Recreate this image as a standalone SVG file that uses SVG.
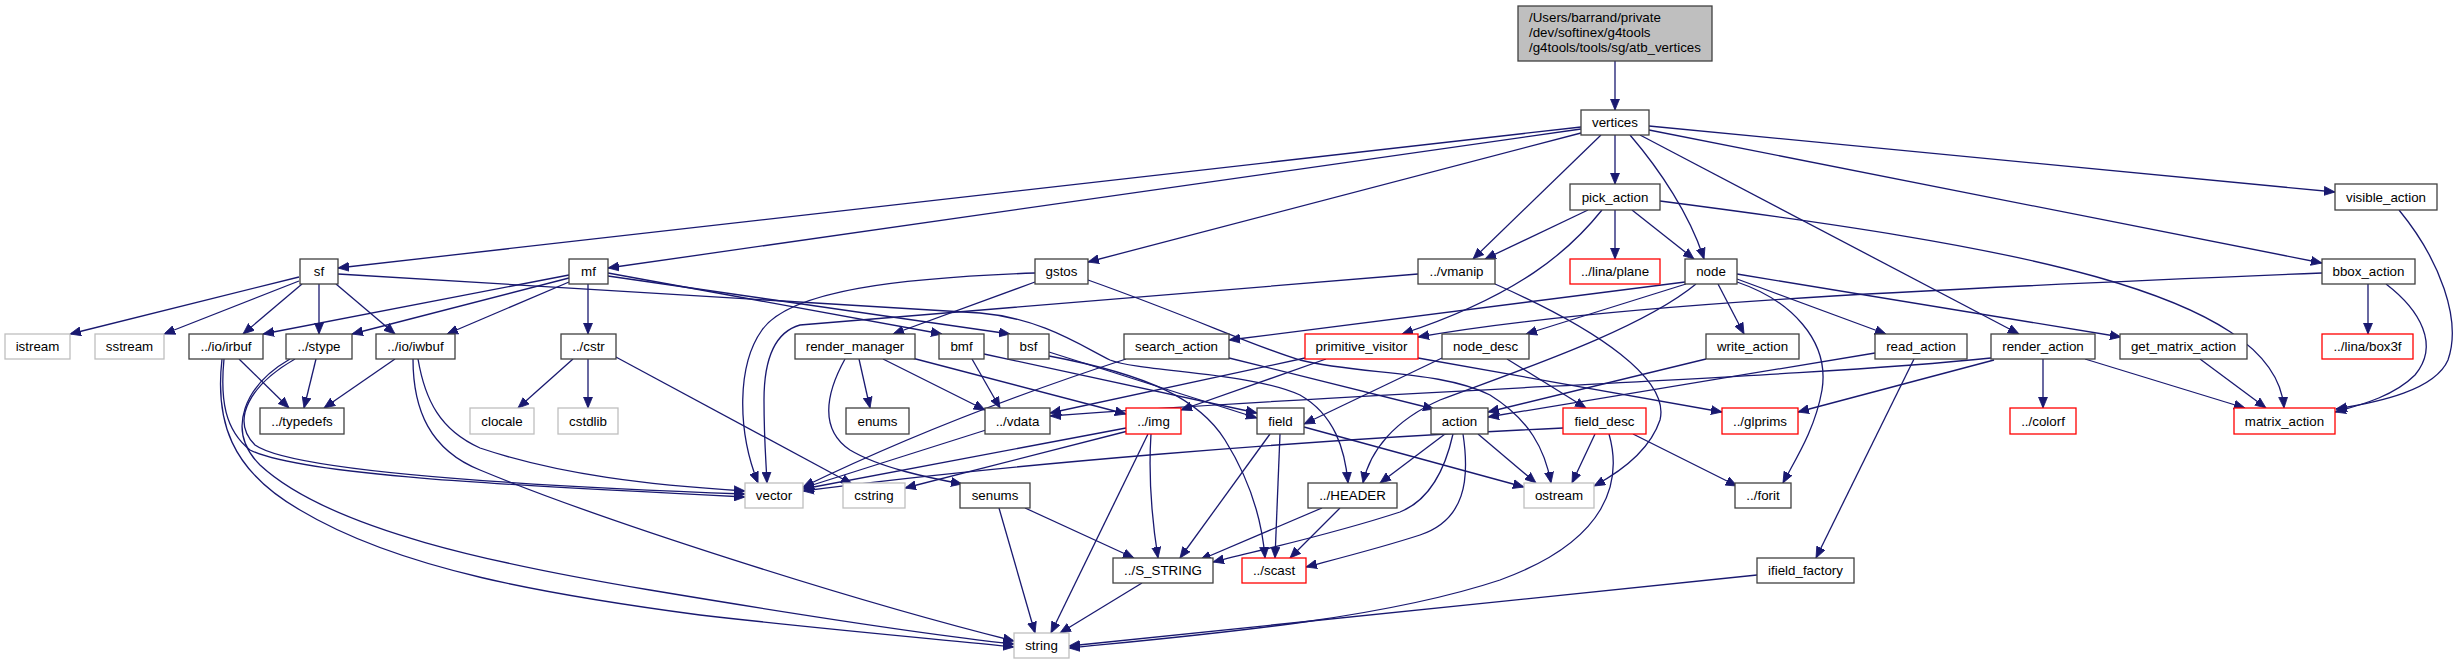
<svg xmlns="http://www.w3.org/2000/svg" width="2461" height="664" viewBox="0 0 2461 664">
<style>
rect{fill:#fff;stroke-width:1.3}
.n rect{stroke:#404040}
.g rect{stroke:#bfbfbf}
.r rect{stroke:#ff0000}
.root rect{fill:#bfbfbf;stroke:#404040}
text{font-family:"Liberation Sans",Arial,sans-serif;font-size:13.33px;fill:#000;text-anchor:middle}
.root text{text-anchor:start}
#edges path{fill:none;stroke:#191970;stroke-width:1.3;marker-end:url(#ah)}
</style>
<defs>
<marker id="ah" markerUnits="userSpaceOnUse" markerWidth="12" markerHeight="10" refX="11" refY="4.5" orient="auto" viewBox="0 0 12 9">
<path d="M0,0 L11,4.5 L0,9 z" fill="#191970" stroke="#191970" stroke-width="0.8"/>
</marker>
</defs>
<rect x="0" y="0" width="2461" height="664" style="fill:#fff;stroke:none"/>
<g id="edges">
<path d="M1615,61 L1615,110"/>
<path d="M1581,127 L338,268"/>
<path d="M1581,129 L608,268"/>
<path d="M1581,133 L1088,262"/>
<path d="M1601,135 L1473,259"/>
<path d="M1615,135 L1615,184"/>
<path d="M1630,135 C1660,170 1690,215 1704,259"/>
<path d="M1640,135 L2019,334"/>
<path d="M1649,130 L2322,263"/>
<path d="M1649,126 L2335,192"/>
<path d="M1588,210 L1485,259"/>
<path d="M1602,210 C1570,250 1520,295 1402,334"/>
<path d="M1615,210 L1615,259"/>
<path d="M1632,210 L1694,259"/>
<path d="M1660,201 C2000,245 2275,290 2284,408"/>
<path d="M2399,210 C2440,260 2462,320 2448,360 C2435,390 2380,402 2336,409"/>
<path d="M2368,284 L2368,334"/>
<path d="M2386,284 C2420,310 2440,345 2415,375 C2395,395 2365,404 2335,412"/>
<path d="M2322,273 C1900,290 1600,305 1418,337"/>
<path d="M299,277 L70,334"/>
<path d="M299,281 L164,334"/>
<path d="M302,284 L243,334"/>
<path d="M319,284 L319,334"/>
<path d="M336,284 L395,334"/>
<path d="M338,274 L980,313 C1040,318 1080,345 1110,360 C1140,372 1250,372 1300,395 C1335,415 1345,450 1348,483"/>
<path d="M569,275 L263,334"/>
<path d="M569,278 L352,334"/>
<path d="M569,282 L447,334"/>
<path d="M588,284 L588,334"/>
<path d="M608,273 L942,334"/>
<path d="M608,276 L1010,334"/>
<path d="M1035,273 C900,278 790,290 762,330 C737,365 737,430 758,483"/>
<path d="M1418,274 L800,325 C775,332 764,360 764,400 C764,440 766,460 767,483"/>
<path d="M1495,284 C1600,330 1670,380 1660,420 C1650,450 1620,472 1594,486"/>
<path d="M1035,282 L893,334"/>
<path d="M1088,280 C1200,320 1250,345 1300,360 C1360,375 1440,370 1490,395 C1530,420 1545,450 1551,483"/>
<path d="M845,359 C825,395 820,430 850,450 C880,468 930,478 962,484"/>
<path d="M859,359 L870,408"/>
<path d="M883,359 L985,410"/>
<path d="M912,358 L1126,414"/>
<path d="M972,359 L1000,408"/>
<path d="M984,354 L1257,413"/>
<path d="M1049,352 L1257,418"/>
<path d="M1049,356 C1150,375 1200,400 1225,440 C1250,480 1262,520 1265,558"/>
<path d="M1126,359 C1000,400 900,440 803,487"/>
<path d="M1229,358 L1434,409"/>
<path d="M1685,282 L1229,340"/>
<path d="M1686,284 L1526,334"/>
<path d="M1696,284 C1640,330 1520,370 1440,400 C1395,420 1370,450 1363,483"/>
<path d="M1718,284 L1744,334"/>
<path d="M1737,279 L1886,334"/>
<path d="M1737,274 L2121,337"/>
<path d="M1737,282 C1790,300 1830,340 1822,390 C1815,430 1795,460 1783,483"/>
<path d="M1442,358 L1304,424"/>
<path d="M1507,359 L1586,408"/>
<path d="M1305,358 L1050,413"/>
<path d="M1326,359 L1181,410"/>
<path d="M1418,358 L1722,412"/>
<path d="M1706,359 L1488,412"/>
<path d="M1875,353 L1488,417"/>
<path d="M1991,358 C1800,378 1400,390 1050,416"/>
<path d="M1994,360 L1798,412"/>
<path d="M2043,359 L2043,408"/>
<path d="M2085,359 L2245,408"/>
<path d="M2200,359 L2266,408"/>
<path d="M1914,359 L1816,558"/>
<path d="M1757,575 L1069,646"/>
<path d="M1609,434 C1622,480 1610,540 1500,580 C1380,620 1200,635 1069,648"/>
<path d="M1595,434 L1572,483"/>
<path d="M1633,434 L1737,486"/>
<path d="M1563,428 C1300,440 1000,465 803,491"/>
<path d="M1304,427 L1524,487"/>
<path d="M1270,434 L1180,558"/>
<path d="M1280,434 L1275,558"/>
<path d="M1445,434 L1380,483"/>
<path d="M1478,434 L1536,483"/>
<path d="M1453,434 C1445,470 1430,500 1400,512 C1330,535 1260,550 1213,562"/>
<path d="M1463,434 C1470,480 1465,520 1420,535 C1380,548 1340,558 1306,567"/>
<path d="M1322,508 L1200,560"/>
<path d="M1340,508 L1290,558"/>
<path d="M1142,583 L1060,633"/>
<path d="M999,508 L1035,633"/>
<path d="M1025,508 L1134,558"/>
<path d="M1128,431 L905,488"/>
<path d="M1126,428 L803,489"/>
<path d="M1148,434 L1051,633"/>
<path d="M1151,434 C1148,480 1152,520 1158,558"/>
<path d="M986,430 L803,488"/>
<path d="M239,359 L289,408"/>
<path d="M316,359 L304,408"/>
<path d="M395,359 L324,408"/>
<path d="M222,359 C215,420 230,470 300,510 C400,570 550,595 700,615 C850,632 950,640 1014,647"/>
<path d="M224,359 C220,400 225,430 250,450 C300,475 500,485 745,497"/>
<path d="M295,359 C250,385 230,420 255,445 C290,470 500,485 745,494"/>
<path d="M290,359 C245,385 225,430 260,465 C330,530 500,565 650,590 C800,615 930,635 1014,644"/>
<path d="M418,359 C425,400 440,430 480,448 C560,475 650,485 745,491"/>
<path d="M413,359 C413,410 430,450 480,470 C600,520 850,600 1014,641"/>
<path d="M573,359 L518,408"/>
<path d="M588,359 L588,408"/>
<path d="M614,356 L852,484"/>
</g>
<g id="node-root" class="root"><rect x="1518" y="6" width="194" height="55"/><text x="1529" y="21.5">/Users/barrand/private</text><text x="1529" y="36.5">/dev/softinex/g4tools</text><text x="1529" y="51.5">/g4tools/tools/sg/atb_vertices</text></g>
<g id="node-vertices" class="n"><rect x="1581" y="110" width="68" height="25"/><text x="1615" y="127">vertices</text></g>
<g id="node-pick_action" class="n"><rect x="1570" y="184" width="90" height="26"/><text x="1615" y="202">pick_action</text></g>
<g id="node-visible_action" class="n"><rect x="2335" y="184" width="102" height="26"/><text x="2386" y="202">visible_action</text></g>
<g id="node-sf" class="n"><rect x="300" y="259" width="38" height="25"/><text x="319" y="276">sf</text></g>
<g id="node-mf" class="n"><rect x="569" y="259" width="39" height="25"/><text x="588.5" y="276">mf</text></g>
<g id="node-gstos" class="n"><rect x="1035" y="259" width="53" height="25"/><text x="1061.5" y="276">gstos</text></g>
<g id="node-vmanip" class="n"><rect x="1418" y="259" width="77" height="25"/><text x="1456.5" y="276">../vmanip</text></g>
<g id="node-lina_plane" class="r"><rect x="1570" y="259" width="90" height="25"/><text x="1615" y="276">../lina/plane</text></g>
<g id="node-node" class="n"><rect x="1685" y="259" width="52" height="25"/><text x="1711" y="276">node</text></g>
<g id="node-bbox_action" class="n"><rect x="2322" y="259" width="93" height="25"/><text x="2368.5" y="276">bbox_action</text></g>
<g id="node-istream" class="g"><rect x="5" y="334" width="65" height="25"/><text x="37.5" y="351">istream</text></g>
<g id="node-sstream" class="g"><rect x="95" y="334" width="69" height="25"/><text x="129.5" y="351">sstream</text></g>
<g id="node-irbuf" class="n"><rect x="189" y="334" width="74" height="25"/><text x="226" y="351">../io/irbuf</text></g>
<g id="node-stype" class="n"><rect x="286" y="334" width="66" height="25"/><text x="319" y="351">../stype</text></g>
<g id="node-iwbuf" class="n"><rect x="376" y="334" width="79" height="25"/><text x="415.5" y="351">../io/iwbuf</text></g>
<g id="node-cstr" class="n"><rect x="561" y="334" width="55" height="25"/><text x="588.5" y="351">../cstr</text></g>
<g id="node-render_manager" class="n"><rect x="795" y="334" width="120" height="25"/><text x="855" y="351">render_manager</text></g>
<g id="node-bmf" class="n"><rect x="939" y="334" width="45" height="25"/><text x="961.5" y="351">bmf</text></g>
<g id="node-bsf" class="n"><rect x="1008" y="334" width="41" height="25"/><text x="1028.5" y="351">bsf</text></g>
<g id="node-search_action" class="n"><rect x="1124" y="334" width="105" height="25"/><text x="1176.5" y="351">search_action</text></g>
<g id="node-primitive_visitor" class="r"><rect x="1305" y="334" width="113" height="25"/><text x="1361.5" y="351">primitive_visitor</text></g>
<g id="node-node_desc" class="n"><rect x="1442" y="334" width="87" height="25"/><text x="1485.5" y="351">node_desc</text></g>
<g id="node-write_action" class="n"><rect x="1706" y="334" width="93" height="25"/><text x="1752.5" y="351">write_action</text></g>
<g id="node-read_action" class="n"><rect x="1875" y="334" width="92" height="25"/><text x="1921" y="351">read_action</text></g>
<g id="node-render_action" class="n"><rect x="1991" y="334" width="104" height="25"/><text x="2043" y="351">render_action</text></g>
<g id="node-get_matrix_action" class="n"><rect x="2120" y="334" width="127" height="25"/><text x="2183.5" y="351">get_matrix_action</text></g>
<g id="node-lina_box3f" class="r"><rect x="2322" y="334" width="91" height="25"/><text x="2367.5" y="351">../lina/box3f</text></g>
<g id="node-typedefs" class="n"><rect x="260" y="408" width="84" height="26"/><text x="302" y="426">../typedefs</text></g>
<g id="node-clocale" class="g"><rect x="470" y="408" width="64" height="26"/><text x="502" y="426">clocale</text></g>
<g id="node-cstdlib" class="g"><rect x="558" y="408" width="60" height="26"/><text x="588" y="426">cstdlib</text></g>
<g id="node-enums" class="n"><rect x="846" y="408" width="63" height="26"/><text x="877.5" y="426">enums</text></g>
<g id="node-vdata" class="n"><rect x="985" y="408" width="65" height="26"/><text x="1017.5" y="426">../vdata</text></g>
<g id="node-img" class="r"><rect x="1126" y="408" width="55" height="26"/><text x="1153.5" y="426">../img</text></g>
<g id="node-field" class="n"><rect x="1257" y="408" width="47" height="26"/><text x="1280.5" y="426">field</text></g>
<g id="node-action" class="n"><rect x="1431" y="408" width="57" height="26"/><text x="1459.5" y="426">action</text></g>
<g id="node-field_desc" class="r"><rect x="1563" y="408" width="83" height="26"/><text x="1604.5" y="426">field_desc</text></g>
<g id="node-glprims" class="r"><rect x="1722" y="408" width="76" height="26"/><text x="1760" y="426">../glprims</text></g>
<g id="node-colorf" class="r"><rect x="2010" y="408" width="66" height="26"/><text x="2043" y="426">../colorf</text></g>
<g id="node-matrix_action" class="r"><rect x="2234" y="408" width="101" height="26"/><text x="2284.5" y="426">matrix_action</text></g>
<g id="node-vector" class="g"><rect x="745" y="483" width="58" height="25"/><text x="774" y="500">vector</text></g>
<g id="node-cstring" class="g"><rect x="843" y="483" width="62" height="25"/><text x="874" y="500">cstring</text></g>
<g id="node-senums" class="n"><rect x="960" y="483" width="70" height="25"/><text x="995" y="500">senums</text></g>
<g id="node-HEADER" class="n"><rect x="1308" y="483" width="89" height="25"/><text x="1352.5" y="500">../HEADER</text></g>
<g id="node-ostream" class="g"><rect x="1524" y="483" width="70" height="25"/><text x="1559" y="500">ostream</text></g>
<g id="node-forit" class="n"><rect x="1735" y="483" width="56" height="25"/><text x="1763" y="500">../forit</text></g>
<g id="node-S_STRING" class="n"><rect x="1113" y="558" width="100" height="25"/><text x="1163" y="575">../S_STRING</text></g>
<g id="node-scast" class="r"><rect x="1242" y="558" width="64" height="25"/><text x="1274" y="575">../scast</text></g>
<g id="node-ifield_factory" class="n"><rect x="1757" y="558" width="97" height="25"/><text x="1805.5" y="575">ifield_factory</text></g>
<g id="node-string" class="g"><rect x="1014" y="633" width="55" height="25"/><text x="1041.5" y="650">string</text></g>
</svg>
